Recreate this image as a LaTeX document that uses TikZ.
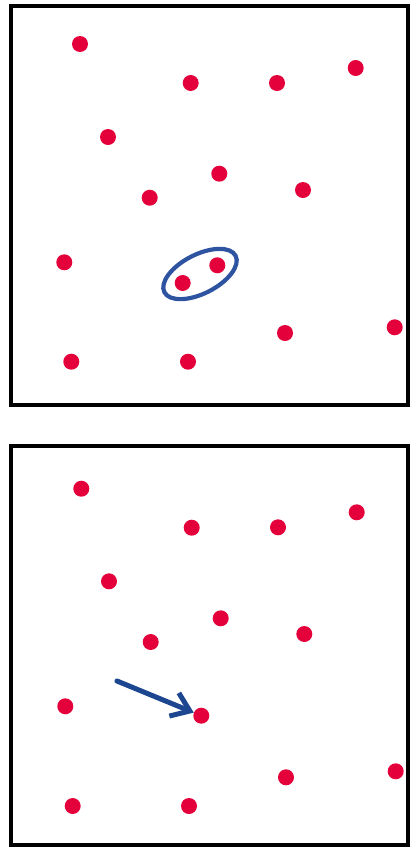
\documentclass[tikz,border=0pt]{standalone}
\usepackage{tikz}
\usetikzlibrary{arrows.meta,positioning,shapes.geometric}
\definecolor{dotred}{HTML}{E4003B}
\definecolor{ringblue}{HTML}{2E53A1}
\definecolor{arrowblue}{HTML}{1C4790}
\tikzset{
  frame/.style={draw=black, line width=4.5pt},
  dot/.style={circle, fill=dotred, minimum size=16pt, inner sep=0pt},
  ring/.style={ellipse, draw=ringblue, line width=4.2pt, minimum width=80pt, minimum height=39pt, inner sep=0pt},
  ar/.style={-{Straight Barb[length=17pt,width=25pt]}, line width=5pt, draw=arrowblue, line cap=round},
}
\begin{document}
\begin{tikzpicture}[x=1pt, y=-1pt]
    \useasboundingbox (0,0) rectangle (410,847);
    \draw[frame] (11,6) rectangle (408,405);
    \draw[frame] (11,446) rectangle (408,845);
    \foreach \x/\y [count=\i] in {80/44, 190.7/83, 277/83, 355.7/68, 108/137, 219.3/173.7, 149.7/197.7, 303/190, 64.3/262.3, 217.3/265.3, 182.7/283, 285/333, 394.7/327.3, 71.3/361.7, 188/361.7}
      \node[dot] (a\i) at (\x,\y) {};
    \node[ring, rotate=27] (pair) at (200,274) {};
    \foreach \x/\y [count=\i] in {81.3/488.7, 191.7/527.7, 278/527.3, 356.7/512.3, 109/581.3, 220.7/618.3, 150.7/642, 304.3/634, 65.3/706.3, 201.3/715.7, 286/777.3, 395.7/771.3, 72.7/806, 189/806}
      \node[dot] (b\i) at (\x,\y) {};
    \coordinate (tail) at (117,681);
    \draw[ar] (tail) -- (b10);
\end{tikzpicture}
\end{document}
